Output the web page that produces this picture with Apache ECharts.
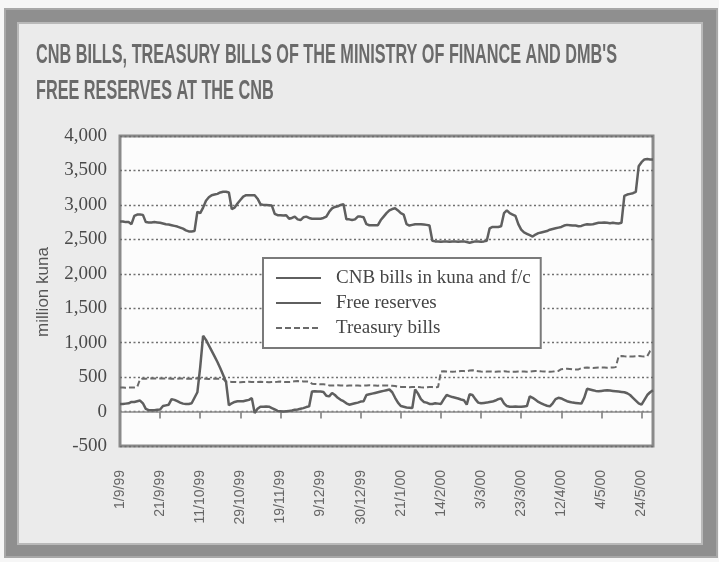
<!DOCTYPE html>
<html>
<head>
<meta charset="utf-8">
<script src="https://cdn.jsdelivr.net/npm/echarts@6/dist/echarts.min.js"></script>
<style>
html,body{margin:0;padding:0;background:#f6f6f6;}
#chart{width:719px;height:562px;}
</style>
</head>
<body>
<div id="chart"></div>
<script>
// ---- data (working days, 1/9/99 .. end of May 2000) ----
const TITLE_LINES = [
  "CNB BILLS, TREASURY BILLS OF THE MINISTRY OF FINANCE AND DMB'S",
  "FREE RESERVES AT THE CNB"
];
const Y_NAME = "million kuna";
const SERIES_NAMES = ["CNB bills in kuna and f/c", "Free reserves", "Treasury bills"];
const TICK_LABELS = ["1/9/99","21/9/99","11/10/99","29/10/99","19/11/99","9/12/99","30/12/99",
  "21/1/00","14/2/00","3/3/00","23/3/00","12/4/00","4/5/00","24/5/00"];
const TICK_STEP = 14; // a label every 14 working days

const CNB_BILLS = [
  2760,2760,2750,2750,2720,2840,2860,2860,2855,2750,
  2745,2745,2750,2745,2740,2730,2720,2715,2705,2695,
  2685,2670,2655,2630,2615,2615,2620,2900,2880,2960,
  3060,3110,3140,3150,3160,3180,3190,3190,3180,2940,
  2960,3020,3070,3120,3140,3140,3140,3140,3090,3010,
  3000,3000,2995,2990,2870,2850,2850,2845,2850,2800,
  2810,2830,2790,2780,2820,2830,2810,2800,2800,2800,
  2800,2810,2830,2900,2950,2970,2980,3000,3010,2790,
  2790,2780,2790,2830,2830,2820,2720,2705,2705,2705,
  2705,2780,2830,2880,2920,2940,2950,2920,2880,2860,
  2720,2700,2710,2720,2720,2720,2715,2710,2700,2480,
  2470,2470,2465,2470,2470,2465,2470,2470,2465,2470,
  2470,2460,2450,2460,2470,2470,2465,2470,2480,2660,
  2680,2680,2680,2690,2880,2920,2880,2860,2840,2720,
  2640,2600,2580,2560,2540,2570,2590,2600,2610,2620,
  2640,2650,2660,2670,2680,2700,2710,2705,2700,2700,
  2690,2695,2710,2720,2715,2720,2730,2740,2740,2745,
  2740,2735,2740,2735,2730,2740,3130,3150,3160,3170,
  3190,3560,3620,3660,3665,3660,3660
];

const FREE_RESERVES = [
  110,110,115,120,140,140,150,160,120,40,
  20,20,20,25,30,80,90,100,180,170,
  150,130,115,110,110,120,200,280,650,1100,
  1040,960,880,800,720,630,530,430,90,120,
  140,150,150,150,160,170,195,-20,40,70,
  70,75,70,50,30,10,5,0,5,10,
  15,25,30,40,50,65,75,290,295,290,
  290,285,230,220,270,240,200,170,150,120,
  100,110,120,130,145,150,240,250,260,270,
  280,290,300,310,320,280,200,130,80,70,
  60,55,50,320,260,180,140,130,110,110,
  120,115,110,180,240,225,210,200,190,175,
  165,100,250,240,180,130,120,125,130,140,
  145,160,180,190,120,80,70,70,75,70,
  70,75,80,220,200,170,140,120,100,85,
  75,120,180,200,190,170,150,140,130,125,
  120,115,200,330,320,310,300,295,300,305,
  310,305,300,295,290,285,280,265,240,200,
  160,120,100,170,240,280,310
];

const TREASURY_BILLS = [
  350,350,345,350,350,350,355,470,480,478,
  480,482,480,478,480,480,482,480,478,476,
  478,480,480,478,476,478,480,482,480,478,
  476,474,476,478,476,474,472,435,432,430,
  430,428,425,428,430,432,430,428,430,432,
  430,428,425,428,430,432,435,430,428,430,
  432,440,442,440,438,436,435,405,400,398,
  395,395,392,380,378,380,382,380,378,376,
  378,380,380,378,376,378,380,382,380,378,
  376,378,380,378,376,374,372,360,358,355,
  355,352,355,358,355,352,350,352,355,355,
  352,355,580,585,582,580,578,580,585,590,
  588,585,595,600,590,585,580,578,580,582,
  580,578,580,582,585,580,578,576,578,580,
  582,580,578,580,585,590,588,585,583,580,
  578,580,585,590,615,620,622,618,612,610,
  612,630,635,638,636,634,636,638,640,638,
  636,638,640,645,800,805,802,800,798,800,
  802,805,802,800,805,880,900
];

const Y_MIN = -500, Y_MAX = 4000, Y_STEP = 500;

// ---- chart ----
const categories = CNB_BILLS.map((_, i) => String(i));
const chart = echarts.init(document.getElementById('chart'), null, {renderer: 'canvas'});

const titleFont = 'bold 27px "Liberation Sans"';
const mctx = document.createElement('canvas').getContext('2d');
mctx.font = titleFont;
const titleScale = 581 / mctx.measureText(TITLE_LINES[0]).width;

const lineColor = '#5f5f5f';

const option = {
  backgroundColor: '#f6f6f6',
  animation: false,
  graphic: [
    {type: 'rect', z: -10, shape: {x: 5, y: 9, width: 712, height: 548},
     style: {fill: '#8f8f8f', stroke: '#a8a8a8', lineWidth: 2}},
    {type: 'rect', z: -9, shape: {x: 18, y: 23, width: 684, height: 521},
     style: {fill: '#ebebeb', stroke: '#b9b9b9', lineWidth: 2}},
    {type: 'text', z: 10, x: 36, y: 56, scaleX: titleScale,
     style: {text: TITLE_LINES[0], font: titleFont, fill: '#6a6a6a', align: 'left', verticalAlign: 'middle'}},
    {type: 'text', z: 10, x: 36, y: 92, scaleX: titleScale,
     style: {text: TITLE_LINES[1], font: titleFont, fill: '#6a6a6a', align: 'left', verticalAlign: 'middle'}},
    {type: 'text', z: 10, x: 43, y: 292, rotation: Math.PI / 2,
     style: {text: Y_NAME, font: '17px "Liberation Sans"', fill: '#555', align: 'center', verticalAlign: 'middle'}}
  ],
  grid: {
    left: 120, right: 66, top: 136, bottom: 116,
    show: true, backgroundColor: '#fcfcfc', borderColor: '#8a8a8a', borderWidth: 3
  },
  legend: {
    orient: 'vertical', left: 263, top: 258,
    padding: [10, 10, 10, 12],
    itemWidth: 45, itemHeight: 14, itemGap: 5,
    itemStyle: {opacity: 0},
    backgroundColor: '#ffffff', borderColor: '#7a7a7a', borderWidth: 2,
    textStyle: {fontFamily: 'Liberation Serif', fontSize: 19, color: '#454545', lineHeight: 20, padding: [0, 0, 0, 10]},
    data: SERIES_NAMES
  },
  xAxis: {
    type: 'category', data: categories, boundaryGap: false, offset: 8,
    axisLine: {show: false},
    axisTick: {show: true, length: 7, interval: (i) => i % TICK_STEP === 0 && i > 0,
               lineStyle: {color: '#777', width: 1.5}},
    axisLabel: {
      interval: (i) => i % TICK_STEP === 0, rotate: 90, margin: 16,
      fontFamily: 'Liberation Sans', fontSize: 14, color: '#666',
      formatter: (v, i) => TICK_LABELS[Math.round(i / TICK_STEP)] || ''
    },
    splitLine: {show: false}
  },
  yAxis: {
    type: 'value', min: Y_MIN, max: Y_MAX, interval: Y_STEP,
    axisLine: {show: false}, axisTick: {show: false},
    axisLabel: {
      margin: 13, fontFamily: 'Liberation Serif', fontSize: 19, color: '#4a4a4a',
      formatter: (v) => v.toLocaleString('en-US')
    },
    splitLine: {show: true, lineStyle: {color: '#6f6f6f', width: 1.3, type: [2, 2.5]}}
  },
  series: [
    {name: SERIES_NAMES[0], type: 'line', data: CNB_BILLS, symbol: 'none',
     lineStyle: {color: lineColor, width: 2.5}, itemStyle: {color: lineColor}, z: 5},
    {name: SERIES_NAMES[1], type: 'line', data: FREE_RESERVES, symbol: 'none',
     lineStyle: {color: lineColor, width: 2.5}, itemStyle: {color: lineColor}, z: 5,
     markLine: {silent: true, symbol: 'none', label: {show: false},
       lineStyle: {color: '#8a8a8a', width: 1.5, type: 'solid'}, data: [{yAxis: 0}]}},
    {name: SERIES_NAMES[2], type: 'line', data: TREASURY_BILLS, symbol: 'none',
     lineStyle: {color: '#6a6a6a', width: 2, type: [6, 3]}, itemStyle: {color: '#6a6a6a'}, z: 4}
  ]
};
chart.setOption(option);
</script>
</body>
</html>
